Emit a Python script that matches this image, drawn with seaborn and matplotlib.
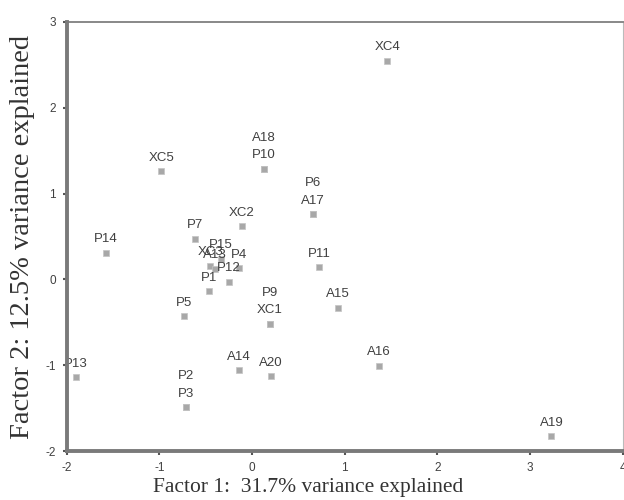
import matplotlib
matplotlib.use("Agg")
import matplotlib.pyplot as plt
import seaborn as sns
import pandas as pd

labels = ["XC4", "P10", "A18", "XC5", "A17", "P6", "XC2", "P7", "P14", "P11",
          "P15", "XC3", "A13", "P4", "P1", "P12", "P5", "XC1", "P9", "A15",
          "A14", "A20", "P13", "P3", "P2", "A16", "A19"]
factor1 = [1.46, 0.13, 0.13, -0.98, 0.66, 0.66, -0.11, -0.62, -1.58, 0.72,
           -0.34, -0.45, -0.40, -0.14, -0.46, -0.25, -0.74, 0.19, 0.19, 0.93,
           -0.14, 0.20, -1.90, -0.71, -0.71, 1.37, 3.23]
factor2 = [2.55, 1.29, 1.29, 1.26, 0.76, 0.76, 0.62, 0.47, 0.31, 0.14,
           0.24, 0.16, 0.12, 0.13, -0.14, -0.03, -0.43, -0.52, -0.52, -0.33,
           -1.06, -1.13, -1.14, -1.49, -1.49, -1.01, -1.83]

df = pd.DataFrame({"label": labels, "f1": factor1, "f2": factor2})

sns.set_style("white")
plt.rcParams["font.family"] = ["Liberation Sans", "DejaVu Sans"]
plt.rcParams["axes.unicode_minus"] = False

fig = plt.figure(figsize=(6.24, 5.0), dpi=100)
ax = fig.add_axes([0.107, 0.098, 0.891, 0.858])

sns.scatterplot(data=df, x="f1", y="f2", marker="s", s=13, color="#a8a8a8",
                edgecolor="#c4c4c4", linewidth=0.5, ax=ax, zorder=3)

# stack labels of coincident points
seen = []
for lab, x, y in zip(labels, factor1, factor2):
    level = sum(1 for (px, py) in seen if abs(px - x) < 1e-6 and abs(py - y) < 1e-6)
    seen.append((x, y))
    t = ax.annotate(lab, (x, y), xytext=(0, 5.5 + level * 12.5), textcoords="offset points",
                    ha="center", va="bottom", fontsize=9.5, color="#404040",
                    annotation_clip=False, zorder=3)
    t.set_clip_on(True)
    t.set_clip_box(ax.bbox)

ax.set_xlim(-2, 4)
ax.set_ylim(-2, 3)
ax.set_xticks([-2, -1, 0, 1, 2, 3, 4])
ax.set_yticks([-2, -1, 0, 1, 2, 3])
ax.tick_params(axis="both", direction="out", length=3, width=1.5, colors="#555555",
               labelsize=8.5, labelcolor="#404040")
ax.tick_params(axis="x", pad=5)
ax.tick_params(axis="y", pad=5)
ax.tick_params(axis="both", bottom=True, left=True)

for side in ["left", "bottom"]:
    ax.spines[side].set_linewidth(2.8)
    ax.spines[side].set_color("#7a7a7a")
    ax.spines[side].set_zorder(6)
ax.spines["top"].set_linewidth(1.4)
ax.spines["top"].set_color("#888888")
ax.spines["right"].set_linewidth(0.8)
ax.spines["right"].set_color("#bbbbbb")

ax.set_xlabel("Factor 1:  31.7% variance explained", family=["Liberation Serif", "DejaVu Serif"],
              fontsize=15.5, color="#333333")
ax.set_ylabel("Factor 2: 12.5% variance explained", family=["Liberation Serif", "DejaVu Serif"],
              fontsize=20.5, color="#333333")
ax.xaxis.set_label_coords(0.435, -0.062)
ax.yaxis.set_label_coords(-0.058, 0.5)

fig.savefig("out.png", dpi=100, facecolor="white")
